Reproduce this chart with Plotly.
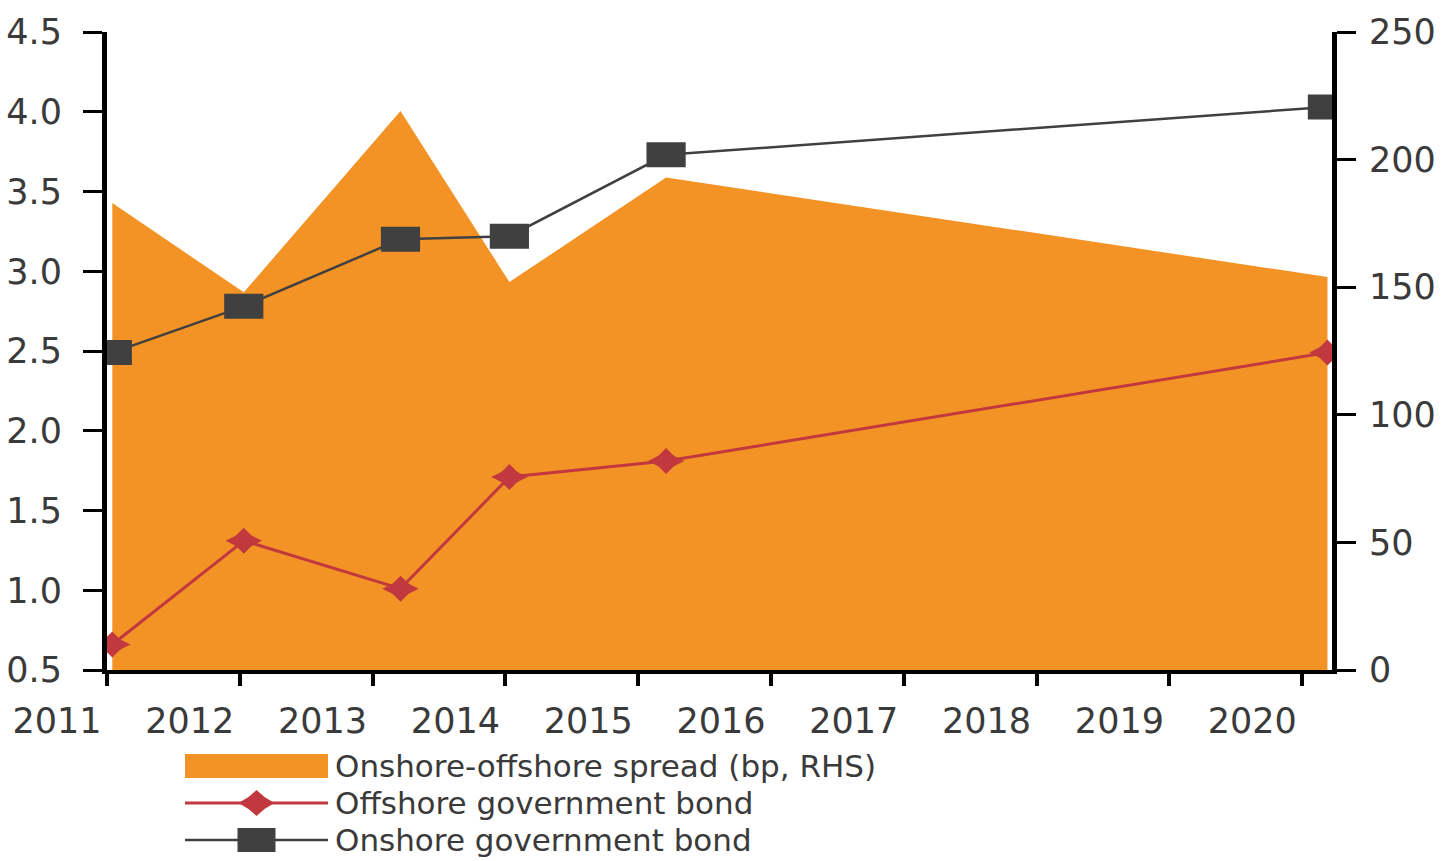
import plotly.graph_objects as go

# ---------------- data ----------------
tick_years = [2011, 2012, 2013, 2014, 2015, 2016, 2017, 2018, 2019, 2020]
obs_time = [2011.04, 2012.03, 2013.21, 2014.03, 2015.21, 2020.19]
onshore_yield = [2.49, 2.78, 3.20, 3.22, 3.73, 4.03]      # %, LHS
offshore_yield = [0.66, 1.31, 1.01, 1.71, 1.81, 2.49]     # %, LHS
spread_bp = [183, 148, 219, 152, 193, 154]                # bp, RHS
left_ticks = [0.5, 1.0, 1.5, 2.0, 2.5, 3.0, 3.5, 4.0, 4.5]
right_ticks = [0, 50, 100, 150, 200, 250]
series_names = ["Onshore-offshore spread (bp, RHS)",
                "Offshore government bond",
                "Onshore government bond"]

# ---------------- style ----------------
ORANGE = "#F39325"
RED = "#C1393F"
DARK = "#404040"
TEXT = "#3a3a3a"
FONT = "DejaVu Sans"
FS = 35
LEG_FS = 31

W, H = 1442, 861
L, R, T, B = 107, 1332, 32, 670   # plot-area edges in px
YEAR_PX = 132.8

def px(x):
    return (x - L) / (R - L)

def py(y):
    return (B - y) / (B - T)

fig = go.Figure()

fig.add_trace(go.Scatter(
    x=obs_time, y=spread_bp, mode="lines", fill="tozeroy",
    fillcolor=ORANGE, line=dict(width=0, color=ORANGE),
    yaxis="y", name=series_names[0], hoverinfo="skip"))

fig.add_trace(go.Scatter(
    x=obs_time, y=offshore_yield, mode="lines+markers",
    line=dict(color=RED, width=3),
    marker=dict(symbol="diamond", size=20, color=RED),
    yaxis="y2", name=series_names[1]))
fig.add_trace(go.Scatter(
    x=obs_time, y=offshore_yield, mode="markers",
    marker=dict(symbol="diamond-wide", size=26, color=RED),
    yaxis="y2", name=series_names[1], hoverinfo="skip"))

fig.add_trace(go.Scatter(
    x=obs_time, y=onshore_yield, mode="lines+markers",
    line=dict(color=DARK, width=2.5),
    marker=dict(symbol="line-ew", size=28, color=DARK,
                line=dict(width=25, color=DARK)),
    yaxis="y2", name=series_names[2]))

axis_common = dict(showgrid=False, zeroline=False, showline=True,
                   linecolor="black", ticks="outside", tickcolor="black",
                   tickfont=dict(family=FONT, size=FS, color=TEXT))

fig.update_layout(
    width=W, height=H,
    margin=dict(l=L, r=W - R, t=T, b=H - B, autoexpand=False),
    paper_bgcolor="white", plot_bgcolor="white",
    showlegend=False,
    xaxis=dict(range=[tick_years[0], tick_years[0] + (R - L) / YEAR_PX],
               tickmode="array", tickvals=tick_years,
               ticktext=[str(y) for y in tick_years],
               ticklen=12, tickwidth=4, linewidth=4,
               ticklabelshift=-50, ticklabelstandoff=5,
               **axis_common),
    yaxis=dict(side="right", range=[0, 250], tickmode="array",
               tickvals=right_ticks, ticklen=19, tickwidth=3, linewidth=5,
               ticklabelstandoff=6, **axis_common),
    yaxis2=dict(side="left", overlaying="y", range=[0.5, 4.5],
                tickmode="array", tickvals=left_ticks, tickformat=".1f",
                ticklen=19, tickwidth=3, linewidth=5,
                ticklabelstandoff=14, **axis_common),
)

# ---------------- custom legend ----------------
sw_x0, sw_x1 = 185, 328
rows = [766, 803, 840]
shapes = []
shapes.append(dict(type="rect", xref="paper", yref="paper",
                   x0=px(sw_x0), x1=px(sw_x1), y0=py(rows[0] - 12), y1=py(rows[0] + 12),
                   fillcolor=ORANGE, line=dict(width=0)))
shapes.append(dict(type="line", xref="paper", yref="paper",
                   x0=px(sw_x0), x1=px(sw_x1), y0=py(rows[1]), y1=py(rows[1]),
                   line=dict(color=RED, width=3)))
cx = (sw_x0 + sw_x1) / 2
dpts = [(-18, 0), (-8, -6), (0, -13), (8, -6), (18, 0), (8, 6), (0, 13), (-8, 6)]
path = "M " + " L ".join(f"{px(cx + dx):.5f},{py(rows[1] + dy):.5f}" for dx, dy in dpts) + " Z"
shapes.append(dict(type="path", xref="paper", yref="paper", path=path,
                   fillcolor=RED, line=dict(width=0)))
shapes.append(dict(type="line", xref="paper", yref="paper",
                   x0=px(sw_x0), x1=px(sw_x1), y0=py(rows[2]), y1=py(rows[2]),
                   line=dict(color=DARK, width=2.5)))
shapes.append(dict(type="rect", xref="paper", yref="paper",
                   x0=px(cx - 19), x1=px(cx + 19), y0=py(rows[2] - 12), y1=py(rows[2] + 12),
                   fillcolor=DARK, line=dict(width=0)))
fig.update_layout(shapes=shapes)

for name, ry in zip(series_names, rows):
    fig.add_annotation(xref="paper", yref="paper", x=px(334), y=py(ry),
                       xanchor="left", yanchor="middle", showarrow=False,
                       borderpad=0,
                       text=name, font=dict(family=FONT, size=LEG_FS, color=TEXT))

fig.write_html("out.html", config={"displayModeBar": False},
               post_script="document.body.style.margin='0';document.body.style.overflow='hidden';")
